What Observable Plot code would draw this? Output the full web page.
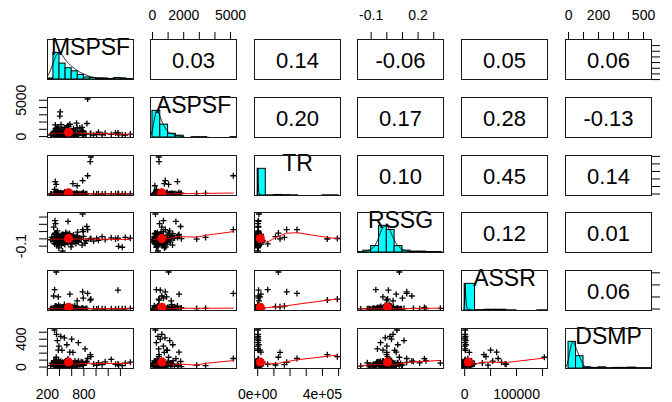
<!DOCTYPE html>
<html><head><meta charset="utf-8">
<script src="https://cdn.jsdelivr.net/npm/d3@7"></script>
<script src="https://cdn.jsdelivr.net/npm/@observablehq/plot@0.6"></script>
<style>
html,body{margin:0;padding:0;background:#fff;overflow:hidden;}
#chart{position:relative;width:672px;height:402px;overflow:hidden;font-family:"Liberation Sans",Arial,sans-serif;}
#chart svg{position:absolute;}
</style></head><body><div id="chart"></div>
<script>
const varNames = ["MSPSF","ASPSF","TR","RSSG","ASSR","DSMP"];

const MSPSF = [862,915,905,346,411,405,780,320,690,620,330,1360,570,380,305,690,790,780,1370,1430,450,325,335,540,850,318,350,420,480,600,365,710,520,390,820,440,1563,1480,1320,1250,1150,1100,1040,1010,960,
255,272,305,312,318,322,327,331,334,338,341,344,347,350,352,355,357,360,362,364,366,368,370,372,374,376,378,380,382,384,386,388,390,392,394,396,398,315,325,336,348,358,371,402,406,409,413,417,421,425,428,432,436,440,444,447,451,455,459,463,467,471,475,479,484,488,493,497,503,508,513,518,523,528,533,538,544,549,555,561,566,572,578,584,589,594,598,605,613,621,629,637,645,653,662,671,680,688,697,712,734,756,771,793,835];

const ASPSF = [5177,400,420,1030,3400,2830,820,250,150,760,1600,500,1700,900,600,1200,700,190,300,250,350,700,450,1500,1800,190,600,350,800,500,1100,250,1300,700,400,950,350,200,500,300,450,250,600,300,200,
210,380,95,640,150,300,470,820,260,120,1150,330,190,560,420,515,77,710,360,280,170,930,450,230,135,590,310,1320,205,400,160,760,660,490,110,350,670,220,185,1050,430,290,540,145,570,870,390,200,320,1650,125,610,460,835,175,340,980,215,410,295,520,140,370,1230,245,690,180,440,305,105,790,605,480,165,580,345,225,1410,395,130,720,285,195,455,850,745,315,155,630,375,1100,275,495,115,905,325,1850,185,550,405,1180,750,1280,145,355];

const TR = [243000,492000,430000,128000,9000,6000,179000,62000,110000,138000,165000,5000,20000,15000,3000,8000,4000,8000,2000,1500,1000,3000,2500,5000,4000,1500,2000,3000,1000,2500,4000,1200,6000,500,1800,2200,3000,1500,2000,1000,2500,1500,3500,1000,2000,
1200,300,4500,800,2100,150,9500,600,1800,3200,400,14000,950,2600,50,700,5200,1500,250,3800,1100,22000,500,2300,850,6800,350,1700,4100,200,2900,1000,12000,450,1350,3500,650,2000,7500,100,1600,550,31000,2500,900,4800,1250,380,18000,2200,750,3000,180,1450,5800,620,2700,1050,8500,420,1900,3300,280,1150,26000,720,2400,560,4400,1550,330,10500,880,2050,1300,6200,480,1750,3600,230,1400,15500,680,2800,1000,5000,360,2150,780,3900,1200,520,7000,1650,270,2450,11000,920,3100,600,1850,4200,340,20000,1500];

const RSSG = [0.127,0.005,-0.002,0.08,0.02,-0.003,0.127,-0.07,0.03,0.0,0.02,0.01,0.06,-0.025,0.16,0.04,0.1,0.342,-0.102,-0.115,-0.167,0.25,0.21,0.24,0.17,0.065,0.04,0.02,-0.01,0.03,0.11,-0.04,0.07,0.0,-0.06,0.05,0.01,0.02,0.0,0.015,-0.01,0.03,-0.02,0.005,-0.03,
-0.012,0.021,-0.034,0.008,-0.061,-0.018,0.035,-0.027,0.067,-0.005,-0.041,0.014,-0.022,-0.083,0.029,-0.009,-0.046,0.003,-0.031,0.042,-0.015,-0.072,0.018,-0.038,0.005,0.055,-0.024,0.011,-0.049,-0.011,0.026,-0.125,-0.019,0.038,-0.029,-0.056,0.006,-0.036,0.079,-0.007,-0.044,0.017,-0.021,-0.066,0.032,-0.014,-0.039,0.001,-0.026,0.048,-0.008,-0.091,0.023,-0.033,-0.017,0.061,-0.043,0.009,0.058,-0.052,0.036,-0.028,-0.013,0.015,-0.047,-0.077,0.004,-0.035,0.088,-0.01,-0.023,0.027,-0.042,-0.006,0.044,-0.058,-0.016,0.012,-0.037,0.072,-0.025,-0.004,0.031,-0.048,-0.11,0.019,-0.02,-0.068,0.007,-0.032,0.052,-0.011,-0.045,0.024,-0.03,-0.063,0.002,-0.019,0.094,-0.04,0.013,-0.008,-0.085,0.034,-0.026];

const ASSR = [64500,41000,37000,153500,3000,2000,71000,80000,10000,9000,12000,78000,61600,50000,54000,34000,45000,3000,1500,1200,500,2000,1500,6000,2500,1000,800,1500,600,900,2000,500,2200,300,1100,1400,2500,1000,500,800,1200,600,2000,400,700,
800,2400,150,1200,5500,400,1700,90,3100,650,1000,12000,300,2000,750,4200,120,1400,550,8200,950,250,2700,600,1800,60,3600,1100,450,15500,700,1500,200,2200,900,6500,350,1300,500,2900,80,1600,4800,850,270,1900,10000,620,1050,380,2500,720,180,3300,1250,480,7200,950,30,1750,580,2100,320,18500,1150,680,3900,220,1450,800,5000,420,1350,100,2600,900,560,9000,260,1650,740,3400,130,1200,470,2300,6000,880,340,1550,50,2800,610,13500,1020,390,4500,780,240,1950,10,1100,3700,520,1380];

const DSMP = [123,150,178,141,20,25,68,40,30,210,35,45,214,242,86,60,27,58,30,20,15,90,60,120,80,532,470,440,420,400,380,350,320,300,260,240,70,55,40,110,75,35,60,25,45,
22,58,8,35,71,15,44,28,63,5,38,19,86,31,12,47,55,25,3,40,67,18,33,9,52,27,42,92,14,36,21,61,46,6,29,78,16,39,24,57,11,34,72,65,20,2,43,30,83,17,37,26,54,10,41,23,69,32,13,48,59,7,28,45,74,19,35,1,51,26,38,95,15,42,22,64,31,9,47,56,18,33,80,25,4,44,62,29,12,37,53,21,40,88,16,34,6,66,27,85,11,76,39,24,58];

// upper-triangle correlations, row by row
const corrValues = [0.03,0.14,-0.06,0.05,0.06, 0.20,0.17,0.28,-0.13, 0.10,0.45,0.14, 0.12,0.01, 0.06];

// histogram bin widths per variable
const binWidths = [100, 500, 50000, 0.05, 20000, 50];

// axis ticks and labels
const tickValues = [[200,400,600,800,1000,1200,1400],[0,1000,2000,3000,4000,5000],[0,100000,200000,300000,400000,500000],[-0.1,0,0.1,0.2,0.3],[0,50000,100000,150000],[0,100,200,300,400,500]];
const xLabelValues = [[200,800],[0,2000,5000],[0,400000],[-0.1,0.2],[0,100000],[0,200,500]];
const xLabelTexts  = [["200","800"],["0","2000","5000"],["0e+00","4e+05"],["-0.1","0.2"],["0","100000"],["0","200","500"]];
const yLabelValues = [[200,800],[0,5000],[0,400000],[-0.1],[0,100000],[0,400]];
const yLabelTexts  = [["200","800"],["0","5000"],["0e+00","4e+05"],["-0.1"],["0","100000"],["0","400"]];

const columns = [MSPSF, ASPSF, TR, RSSG, ASSR, DSMP];
const N = MSPSF.length;
const rows = d3.range(N).map(k => Object.fromEntries(varNames.map((v, i) => [v, columns[i][k]])));
const domains = columns.map(c => { const [a, b] = d3.extent(c); const p = 0.04 * (b - a); return [a - p, b + p]; });
const means = columns.map(c => d3.mean(c));

function lowess(x, y, f = 2/3, iter = 3) {
  const n = x.length;
  const order = d3.range(n).sort((a, b) => x[a] - x[b]);
  const xs = order.map(k => x[k]), ys = order.map(k => y[k]);
  const ns = Math.max(2, Math.min(n, Math.floor(f * n + 1e-7)));
  const rw = new Array(n).fill(1);
  const fit = new Array(n).fill(0);
  const range = xs[n - 1] - xs[0];
  for (let it = 0; it <= iter; it++) {
    let nleft = 0, nright = ns - 1;
    for (let i = 0; i < n; i++) {
      const xi = xs[i];
      while (nright < n - 1) {
        const dl = xi - xs[nleft], dr = xs[nright + 1] - xi;
        if (dl <= dr) break;
        nleft++; nright++;
      }
      const h = Math.max(xi - xs[nleft], xs[nright] - xi);
      const h9 = 0.999 * h, h1 = 0.001 * h;
      const w = new Array(n).fill(0);
      let a = 0, last = nleft;
      for (let j = nleft; j < n; j++) {
        const r = Math.abs(xs[j] - xi);
        if (r <= h9) {
          w[j] = (r <= h1 ? 1 : Math.pow(1 - Math.pow(r / h, 3), 3)) * rw[j];
          a += w[j]; last = j;
        } else if (xs[j] > xi) break;
      }
      if (a <= 0) { fit[i] = ys[i]; continue; }
      for (let j = nleft; j <= last; j++) w[j] /= a;
      if (h > 0) {
        let xbar = 0; for (let j = nleft; j <= last; j++) xbar += w[j] * xs[j];
        let c = 0; for (let j = nleft; j <= last; j++) c += w[j] * (xs[j] - xbar) ** 2;
        if (Math.sqrt(c) > 0.001 * range) {
          const b = (xi - xbar) / c;
          for (let j = nleft; j <= last; j++) w[j] *= (b * (xs[j] - xbar) + 1);
        }
      }
      let s = 0; for (let j = nleft; j <= last; j++) s += w[j] * ys[j];
      fit[i] = s;
    }
    if (it === iter) break;
    const absr = ys.map((v, k) => Math.abs(v - fit[k]));
    const cmad = 6 * d3.median(absr);
    if (cmad < 1e-7 * d3.mean(absr)) break;
    const c9 = 0.999 * cmad, c1 = 0.001 * cmad;
    for (let k = 0; k < n; k++) { const r = absr[k]; rw[k] = r <= c1 ? 1 : r > c9 ? 0 : (1 - (r / cmad) ** 2) ** 2; }
  }
  return xs.map((v, k) => ({x: v, y: fit[k]}));
}

function kde(values) {
  const n = values.length;
  const sd = d3.deviation(values);
  const iqr = d3.quantile(values, 0.75) - d3.quantile(values, 0.25);
  const bw = 1.06 * Math.min(sd, iqr / 1.34) * Math.pow(n, -0.2);
  const [mn, mx] = d3.extent(values);
  const lo = mn - 3 * bw, hi = mx + 3 * bw;
  const pts = d3.range(512).map(k => lo + (hi - lo) * k / 511);
  const ys = pts.map(x => d3.sum(values, v => Math.exp(-0.5 * ((x - v) / bw) ** 2)));
  const m = d3.max(ys);
  return pts.map((x, k) => ({x, y: ys[k] / m}));
}

function histBins(values, w) {
  const [mn, mx] = d3.extent(values);
  const k0 = Math.floor(mn / w + 1e-9), k1 = Math.ceil(mx / w - 1e-9);
  const thr = d3.range(k0 + 1, k1).map(k => k * w);
  return d3.bin().domain([k0 * w, k1 * w]).thresholds(thr)(values).filter(b => b.x1 > b.x0);
}

const chart = document.getElementById("chart");
const PW = 86, PH = 40, M = 40;
const FONT = "Liberation Sans, Arial, sans-serif";
let ci = 0;
const corrAt = {};
for (let i = 0; i < 6; i++) for (let j = i + 1; j < 6; j++) corrAt[i + "," + j] = corrValues[ci++];

for (let i = 0; i < 6; i++) {
  for (let j = 0; j < 6; j++) {
    const left = Math.round(46.6 + j * 103.6);
    const top = Math.round(39 + i * 57.8);
    const marks = [];
    if (i > j) {
      const xv = varNames[j], yv = varNames[i];
      marks.push(Plot.dot(rows, {x: xv, y: yv, symbol: "plus", r: 2.1, stroke: "black", strokeWidth: 1.3, clip: true}));
      marks.push(Plot.line(lowess(columns[j], columns[i]), {x: "x", y: "y", stroke: "red", strokeWidth: 1, clip: true}));
      marks.push(Plot.dot([{x: means[j], y: means[i]}], {x: "x", y: "y", r: 4.5, fill: "red", stroke: "none", clip: true}));
    } else if (i === j) {
      const bins = histBins(columns[i], binWidths[i]);
      const maxCount = d3.max(bins, b => b.length);
      marks.push(Plot.rectY(bins, {x1: b => b.x0, x2: b => b.x1, y: b => b.length / maxCount, fill: "#00FFFF", stroke: "black", strokeWidth: 1, clip: true}));
      marks.push(Plot.line(kde(columns[i]), {x: "x", y: "y", stroke: "black", strokeWidth: 1, clip: true}));
      marks.push(Plot.text([varNames[i]], {frameAnchor: "top", dy: PH * 0.21, lineAnchor: "middle", fontSize: 23, fill: "black", text: d => d}));
    } else {
      marks.push(Plot.text([corrAt[i + "," + j]], {frameAnchor: "middle", dy: 1, lineAnchor: "middle", fontSize: 22, fill: "black", text: d => d.toFixed(2)}));
    }
    marks.push(Plot.frame({stroke: "#1a1a1a"}));
    // axes
    if (i === 0 && j % 2 === 1) {
      marks.push(Plot.axisX(tickValues[j], {anchor: "top", tickSize: 8, tickFormat: () => "", label: null}));
      marks.push(Plot.text(xLabelValues[j], {x: d => d, text: (d, k) => xLabelTexts[j][k], frameAnchor: "top", dy: -24, lineAnchor: "middle", fontSize: 14, fill: "black"}));
    }
    if (i === 5 && j % 2 === 0) {
      marks.push(Plot.axisX(tickValues[j], {anchor: "bottom", tickSize: 8, tickFormat: () => "", label: null}));
      marks.push(Plot.text(xLabelValues[j], {x: d => d, text: (d, k) => xLabelTexts[j][k], frameAnchor: "bottom", dy: 26, lineAnchor: "middle", fontSize: 14, fill: "black"}));
    }
    if (j === 0 && i % 2 === 1) {
      marks.push(Plot.axisY(tickValues[i], {anchor: "left", tickSize: 8, tickFormat: () => "", label: null}));
      marks.push(Plot.text(yLabelValues[i], {y: d => d, text: (d, k) => yLabelTexts[i][k], frameAnchor: "left", dx: -26, rotate: -90, textAnchor: "middle", lineAnchor: "middle", fontSize: 14, fill: "black"}));
    }
    if (j === 5 && i % 2 === 0) {
      // right-hand axis: its labels fall outside the 672px picture, as in the reference
      marks.push(Plot.axisY(tickValues[i], {anchor: "right", tickSize: 8, tickFormat: () => "", label: null}));
    }
    const svg = Plot.plot({
      width: PW + 2 * M, height: PH + 2 * M,
      marginLeft: M, marginRight: M, marginTop: M, marginBottom: M,
      x: {domain: domains[j], axis: null},
      y: {domain: i === j ? [0, 1.5] : domains[i], axis: null},
      style: {background: "transparent", overflow: "visible", fontFamily: FONT, fontSize: "14px", color: "black"},
      marks
    });
    svg.style.left = (left - M) + "px";
    svg.style.top = (top - M) + "px";
    chart.appendChild(svg);
  }
}
</script>
</body></html>
